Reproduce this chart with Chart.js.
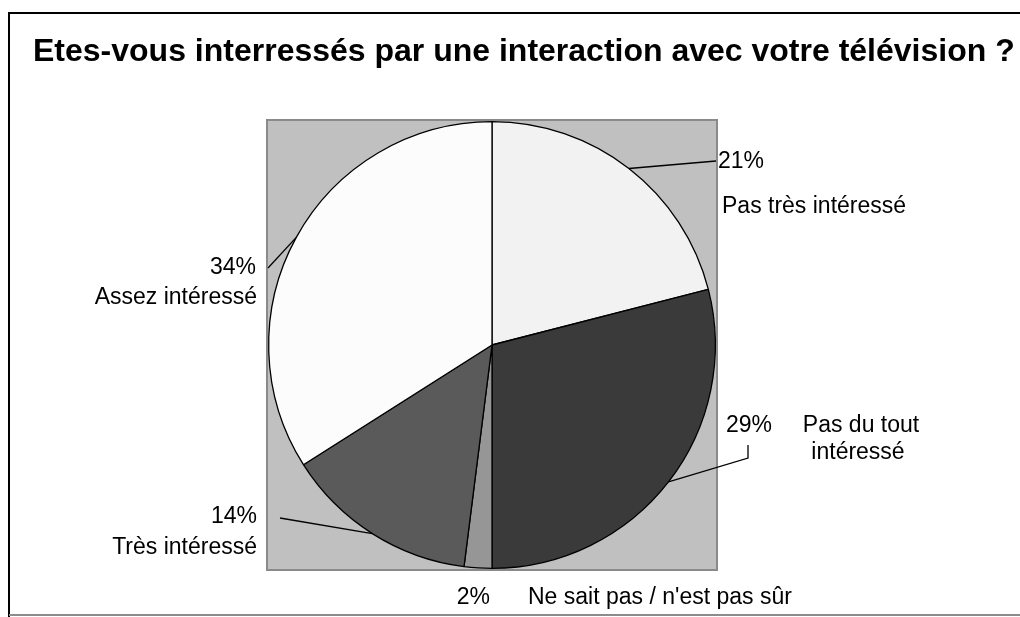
<!DOCTYPE html>
<html>
<head>
<meta charset="utf-8">
<script src="https://cdn.jsdelivr.net/npm/chart.js@4"></script>
<style>
  html, body { margin: 0; padding: 0; background: #fff; }
  #wrap { width: 1020px; height: 617px; position: relative; }
</style>
</head>
<body>
<div id="wrap"><canvas id="pieChart" width="1020" height="617"></canvas></div>
<script>
const titleText = 'Etes-vous interressés par une interaction avec votre télévision ?';
const categories = [
    'Pas très intéressé',
    'Pas du tout intéressé',
    "Ne sait pas / n'est pas sûr",
    'Très intéressé',
    'Assez intéressé'
];
const values = [21, 29, 2, 14, 34];
const sliceColors = ['#f2f2f2', '#3a3a3a', '#969696', '#5a5a5a', '#fcfcfc'];

// where each label sits: percent text, category text lines, leader elbow
const labelLayout = [
    { pct: [718, 162, 'left'], name: [[722, 207, 'left', 'Pas très intéressé']], elbow: [[716, 161]] },
    { pct: [772, 426, 'right'], name: [[861, 426, 'center', 'Pas du tout'], [858, 453, 'center', 'intéressé']], elbow: [[748, 458], [748, 445]] },
    { pct: [490, 598, 'right'], name: [[528, 598, 'left', "Ne sait pas / n'est pas sûr"]], elbow: null },
    { pct: [257, 517, 'right'], name: [[257, 548, 'right', 'Très intéressé']], elbow: [[280, 518]] },
    { pct: [256, 268, 'right'], name: [[257, 298, 'right', 'Assez intéressé']], elbow: [[268, 268]] }
];

const font = '"Liberation Sans", Arial, sans-serif';

const decor = {
    id: 'decor',
    beforeDraw(chart) {
        const ctx = chart.ctx;
        const a = chart.chartArea;
        ctx.save();
        ctx.fillStyle = '#fff';
        ctx.fillRect(0, 0, chart.width, chart.height);
        // outer frame
        ctx.strokeStyle = '#000';
        ctx.lineWidth = 2;
        ctx.beginPath();
        ctx.moveTo(9, 617);
        ctx.lineTo(9, 13);
        ctx.lineTo(1020, 13);
        ctx.stroke();
        ctx.strokeStyle = '#8c8c8c';
        ctx.lineWidth = 2;
        ctx.beginPath();
        ctx.moveTo(9, 615);
        ctx.lineTo(1020, 615);
        ctx.stroke();
        // plot area
        ctx.fillStyle = '#c0c0c0';
        ctx.fillRect(a.left - 1, a.top - 1, a.right - a.left + 2, a.bottom - a.top + 2);
        ctx.strokeStyle = '#8a8a8a';
        ctx.lineWidth = 2;
        ctx.strokeRect(a.left - 1, a.top - 1, a.right - a.left + 2, a.bottom - a.top + 2);
        // title
        ctx.fillStyle = '#000';
        ctx.font = 'bold 32px ' + font;
        ctx.textAlign = 'left';
        ctx.textBaseline = 'middle';
        ctx.fillText(titleText, 33, 52, 982);
        ctx.restore();
    },
    afterDraw(chart) {
        const ctx = chart.ctx;
        const arcs = chart.getDatasetMeta(0).data;
        ctx.save();
        ctx.strokeStyle = '#000';
        ctx.lineWidth = 1.3;
        ctx.fillStyle = '#000';
        ctx.font = '23px ' + font;
        ctx.textBaseline = 'middle';
        arcs.forEach((arc, i) => {
            const p = arc.getProps(['x', 'y', 'startAngle', 'endAngle', 'outerRadius'], true);
            const mid = (p.startAngle + p.endAngle) / 2;
            const sx = p.x + Math.cos(mid) * p.outerRadius;
            const sy = p.y + Math.sin(mid) * p.outerRadius;
            const lay = labelLayout[i];
            if (lay.elbow) {
                ctx.beginPath();
                ctx.moveTo(sx, sy);
                lay.elbow.forEach(pt => ctx.lineTo(pt[0], pt[1]));
                ctx.stroke();
            }
            ctx.textAlign = lay.pct[2];
            ctx.fillText(values[i] + '%', lay.pct[0], lay.pct[1]);
            lay.name.forEach(n => {
                ctx.textAlign = n[2];
                ctx.fillText(n[3], n[0], n[1]);
            });
        });
        ctx.restore();
    }
};

new Chart(document.getElementById('pieChart'), {
    type: 'pie',
    data: {
        labels: categories,
        datasets: [{
            data: values,
            backgroundColor: sliceColors,
            borderColor: '#000',
            borderWidth: 1.3,
            borderAlign: 'center'
        }]
    },
    options: {
        responsive: false,
        animation: false,
        events: [],
        layout: { padding: { left: 268, right: 304, top: 121, bottom: 48 } },
        plugins: {
            legend: { display: false },
            title: { display: false },
            tooltip: { enabled: false }
        }
    },
    plugins: [decor]
});
</script>
</body>
</html>
